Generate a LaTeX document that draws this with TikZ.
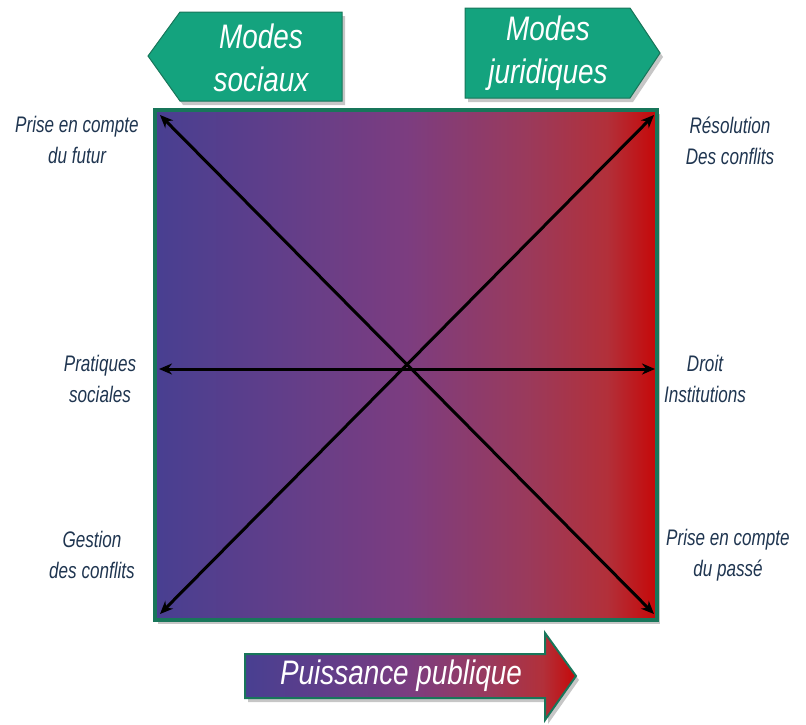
\documentclass[tikz,border=0pt]{standalone}
\usepackage{fontspec}
\usepackage{xcolor}
\usetikzlibrary{calc,shadows,arrows.meta}
\newfontfamily\narrowsf[FakeStretch=0.76]{Liberation Sans}
\newfontfamily\titresf[FakeStretch=0.82]{Liberation Sans}
\definecolor{txtblue}{RGB}{31,53,80}
\definecolor{boxgreen}{RGB}{20,163,126}
\definecolor{edgegreen}{RGB}{24,118,90}
\definecolor{pblue}{RGB}{72,63,145}
\definecolor{pbleu2}{RGB}{96,62,138}
\definecolor{ppurp}{RGB}{124,61,128}
\definecolor{prose}{RGB}{154,58,92}
\definecolor{prouge}{RGB}{178,48,58}
\definecolor{pred}{RGB}{198,8,8}
\pgfdeclarehorizontalshading{gradpr}{100bp}{color(0bp)=(pblue); color(25bp)=(pblue); color(37bp)=(pbleu2); color(50bp)=(ppurp); color(62bp)=(prose); color(70bp)=(prouge); color(75bp)=(pred); color(100bp)=(pred)}
\tikzset{every picture/.style={x=1pt,y=-1pt}}
\tikzset{
  lab/.style={align=center,text=txtblue,font=\narrowsf\itshape\fontsize{22.5}{31}\selectfont},
  titre/.style={align=center,text=white,font=\titresf\itshape\fontsize{34}{43}\selectfont},
  fleche/.style={line width=3pt,{Stealth[length=13pt,width=11pt]}-{Stealth[length=13pt,width=11pt]}},
  ombre/.style={drop shadow={shadow xshift=3pt,shadow yshift=-4pt,opacity=0.45}}
}
\newcommand{\lab}[3]{\node[lab] (#1) at (#2) {#3};}
\newcommand{\ver}[2]{\coordinate (#1) at (#2);}

\begin{document}
\begin{tikzpicture}
    \useasboundingbox (0,0) rectangle (806,724);
    % boites du haut
    \filldraw[boxgreen,draw=edgegreen,line width=1pt,ombre]
      (180,12) -- (342,12) -- (342,101) -- (180,101) -- (148,56) -- cycle;
    \filldraw[boxgreen,draw=edgegreen,line width=1pt,ombre]
      (465,8) -- (630,8) -- (660,53) -- (630,98) -- (465,98) -- cycle;
    \node[titre] (sociaux) at (261,58) {Modes\\sociaux};
    \node[titre] (juridiques) at (548,53) {Modes\\juridiques};

    % carre
    \node[draw=edgegreen,line width=3.5pt,shading=gradpr,ombre,
      minimum width=502pt,minimum height=510pt,inner sep=0pt] (carre) at (406,365) {};

    \ver{hg}{160,115};
    \ver{hd}{654,115};
    \ver{bg}{160,614};
    \ver{bd}{654,614};
    \ver{mg}{159,369};
    \ver{md}{655,369};
    \draw[fleche] (hg) -- (bd);
    \draw[fleche] (bg) -- (hd);
    \draw[fleche] (mg) -- (md);

    \lab{futur}{77,140}{Prise en compte\\du futur};
    \lab{resol}{730,141}{Résolution\\Des conflits};
    \lab{prat}{100,379}{Pratiques\\sociales};
    \lab{droit}{705,379}{Droit\\Institutions};
    \lab{gest}{92,555}{Gestion\\des conflits};
    \lab{passe}{728,555}{Prise en compte\\du passé};

    % fleche du bas
    \path[shading=gradpr,draw=edgegreen,line width=2pt,ombre]
      (245,654) -- (545,654) -- (545,633) -- (576,676) -- (545,720)
      -- (545,698) -- (245,698) -- cycle;
    \node[titre] (puissance) at (401,676) {Puissance publique};
\end{tikzpicture}
\end{document}
